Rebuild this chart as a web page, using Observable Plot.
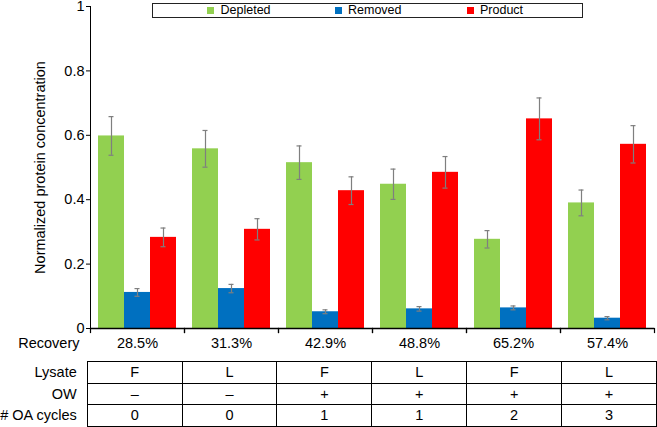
<!DOCTYPE html>
<html><head><meta charset="utf-8">
<script src="https://cdn.jsdelivr.net/npm/d3@7"></script>
<script src="https://cdn.jsdelivr.net/npm/@observablehq/plot@0.6"></script>
<style>
body{margin:0;background:#fff;font-family:"Liberation Sans",Arial,sans-serif;}
#wrap{position:relative;width:657px;height:427px;overflow:hidden;background:#fff}
#chart{position:absolute;left:0;top:0}
#legend{position:absolute;left:152px;top:3px;width:429px;height:13px;border:1px solid #222;background:#fff;font-size:12.5px;color:#000}
.li{position:absolute;top:-1px;line-height:15px;white-space:nowrap}
.sw{display:inline-block;width:7px;height:7px;margin-right:6.5px}
table{position:absolute;left:0;top:361px;border-collapse:collapse;font-size:14.5px;table-layout:fixed;color:#000}
tr{height:21.7px}
td{padding:0;text-align:center;border:1.5px solid #000;width:94.5px;line-height:1}
td.lab{border:none;text-align:right;padding-right:10px;width:77px}
</style>
</head><body>
<div id="wrap">
  <div id="chart"></div>
  <div id="legend"></div>
  <table id="tbl"></table>
</div>
<script>
const series = ["Depleted", "Removed", "Product"];
const colors = ["#92d050", "#0070c0", "#ff0000"];
const recovery = ["28.5%", "31.3%", "42.9%", "48.8%", "65.2%", "57.4%"];
const depleted = [0.598, 0.558, 0.515, 0.448, 0.277, 0.390];
const depletedErr = [0.060, 0.057, 0.052, 0.047, 0.027, 0.040];
const removed = [0.112, 0.124, 0.052, 0.061, 0.064, 0.032];
const removedErr = [0.012, 0.013, 0.006, 0.007, 0.006, 0.005];
const product = [0.283, 0.308, 0.428, 0.485, 0.651, 0.572];
const productErr = [0.029, 0.033, 0.043, 0.049, 0.065, 0.058];
const yTicks = [0, 0.2, 0.4, 0.6, 0.8, 1];
const yTickLabels = ["0", "0.2", "0.4", "0.6", "0.8", "1"];
const rowLabels = ["Lysate", "OW", "# OA cycles"];
const lysate = ["F", "L", "F", "L", "F", "L"];
const ow = ["\u2013", "\u2013", "+", "+", "+", "+"];
const oaCycles = ["0", "0", "1", "1", "2", "3"];

const vals = [depleted, removed, product];
const errs = [depletedErr, removedErr, productErr];
const rows = [];
recovery.forEach((r, i) => {
  series.forEach((s, k) => rows.push({rec: r, series: s, value: vals[k][i], err: errs[k][i]}));
});

const errStyle = {stroke: "#7f7f7f", strokeWidth: 1.2};
const chart = Plot.plot({
  width: 657, height: 360,
  marginLeft: 88, marginRight: 2, marginTop: 6, marginBottom: 32,
  style: {fontFamily: '"Liberation Sans", Arial, sans-serif', fontSize: "14.5px", color: "#000", background: "#fff", overflow: "visible"},
  fx: {domain: recovery, padding: 0, axis: "bottom", tickSize: 0, tickPadding: 9, label: null},
  x: {domain: series, paddingInner: 0, paddingOuter: 0.25, axis: null},
  y: {domain: [0, 1], ticks: yTicks, tickFormat: d => yTickLabels[yTicks.indexOf(d)], tickSize: 4, tickPadding: 2,
      line: true, label: "Normalized protein concentration", labelAnchor: "center", labelArrow: false, labelOffset: 56, grid: false},
  color: {domain: series, range: colors},
  marks: [
    Plot.barY(rows, {fx: "rec", x: "series", y: "value", fill: "series"}),
    Plot.ruleX(rows, {fx: "rec", x: "series", y1: d => d.value - d.err, y2: d => d.value + d.err, ...errStyle}),
    Plot.tickY(rows, {fx: "rec", x: "series", y: d => d.value + d.err, insetLeft: 10.5, insetRight: 10.5, ...errStyle}),
    Plot.tickY(rows, {fx: "rec", x: "series", y: d => d.value - d.err, insetLeft: 10.5, insetRight: 10.5, ...errStyle}),
    Plot.ruleY([0], {stroke: "#000", strokeWidth: 1.5}),
    Plot.frame({anchor: "left", insetTop: 322, insetBottom: -4, stroke: "#000", strokeWidth: 1.2}),
    Plot.frame({anchor: "right", insetTop: 322, insetBottom: -4, stroke: "#000", strokeWidth: 1.2}),
    Plot.text([{rec: recovery[0], t: "Recovery"}], {fx: "rec", text: "t", frameAnchor: "bottom-left", textAnchor: "end", dx: -11, dy: 19, fontSize: 14.5})
  ]
});
document.getElementById("chart").appendChild(chart);

// legend
const legendPos = [54, 181.5, 313.5];
const lg = document.getElementById("legend");
series.forEach((s, k) => {
  const d = document.createElement("div");
  d.className = "li";
  d.style.left = legendPos[k] + "px";
  d.innerHTML = `<span class="sw" style="background:${colors[k]}"></span>${s}`;
  lg.appendChild(d);
});

// table
const tbl = document.getElementById("tbl");
[lysate, ow, oaCycles].forEach((arr, r) => {
  const tr = document.createElement("tr");
  const th = document.createElement("td");
  th.className = "lab"; th.textContent = rowLabels[r];
  tr.appendChild(th);
  arr.forEach(v => { const td = document.createElement("td"); td.textContent = v; tr.appendChild(td); });
  tbl.appendChild(tr);
});
</script>
</body></html>
